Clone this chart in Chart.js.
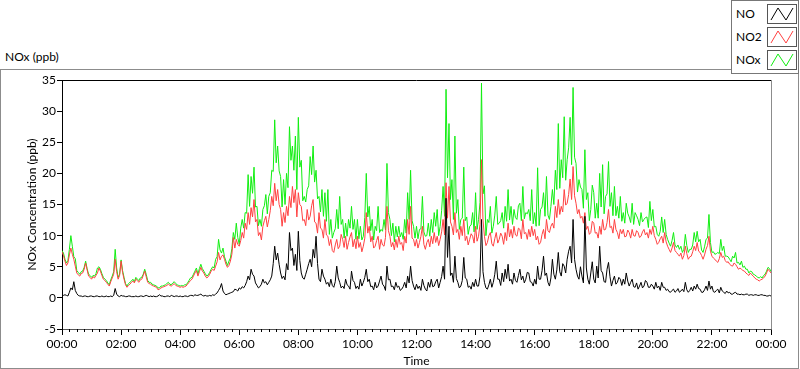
<!DOCTYPE html>
<html>
<head>
<meta charset="utf-8">
<script src="https://cdn.jsdelivr.net/npm/chart.js@4.4.1/dist/chart.umd.min.js"></script>
<style>
  body { margin: 0; background: #fff; font-family: Lato, sans-serif; }
  #wrap { position: relative; width: 800px; height: 369px; overflow: hidden; }
  #frame { position: absolute; left: 0; top: 69px; width: 797px; height: 298px; border: 1px solid #8c8c8c; }
  #cv { position: absolute; left: 0; top: 0; width: 800px; height: 369px; }
  #ttl { position: absolute; left: 5px; top: 49px; font-size: 12px; color: #000; }
  #legend { position: absolute; left: 731px; top: 0; width: 66px; height: 72px; border: 1px solid #777; background: #fff; }
  .lab { position: absolute; left: 4px; font-size: 12px; line-height: 14px; color: #000; }
  .sw { position: absolute; left: 35px; width: 28px; height: 18px; border: 1px solid #555; background: #fff; }
  .sw svg { display: block; }
</style>
</head>
<body>
<div id="wrap">
  <div id="frame"></div>
  <div id="ttl">NOx (ppb)</div>
  <div id="cv"><canvas id="chart"></canvas></div>
  <div id="legend">
    <div class="lab" style="top:6px">NO</div>
    <div class="sw" style="top:3px"><svg width="28" height="18"><polyline points="3,15 10,3 18,15 25,3" fill="none" stroke="#000" stroke-width="1"/></svg></div>
    <div class="lab" style="top:29px">NO2</div>
    <div class="sw" style="top:26px"><svg width="28" height="18"><polyline points="3,15 10,3 18,15 25,3" fill="none" stroke="#ff4040" stroke-width="1"/></svg></div>
    <div class="lab" style="top:52px">NOx</div>
    <div class="sw" style="top:49px"><svg width="28" height="18"><polyline points="3,15 10,3 18,15 25,3" fill="none" stroke="#11ee11" stroke-width="1"/></svg></div>
  </div>
</div>
<script>
// readings every 3 minutes, 00:00 .. 24:00 (ppb), one row per hour
const NO = [
  0.3, 0.4, 0.5, 0.4, 0.3, 0.9, 1.6, 1.3, 2.6, 1.2, 0.7, 0.4, 0.3, 0.3, 0.2, 0.3, 0.3, 0.2, 0.2, 0.3,
  0.3, 0.2, 0.2, 0.3, 0.3, 0.2, 0.2, 0.3, 0.2, 0.2, 0.3, 0.2, 0.2, 0.3, 0.2, 0.4, 1.5, 0.6, 0.3, 0.2,
  0.4, 0.3, 0.3, 0.2, 0.2, 0.3, 0.3, 0.2, 0.2, 0.2, 0.3, 0.2, 0.2, 0.3, 0.3, 0.2, 0.3, 0.4, 0.3, 0.2,
  0.3, 0.2, 0.3, 0.2, 0.2, 0.3, 0.5, 0.3, 0.3, 0.2, 0.2, 0.3, 0.3, 0.2, 0.4, 0.3, 0.2, 0.3, 0.3, 0.2,
  0.3, 0.2, 0.2, 0.3, 0.3, 0.2, 0.3, 0.4, 0.4, 0.3, 0.5, 0.4, 0.4, 0.5, 0.6, 0.4, 0.3, 0.4, 0.3, 0.3,
  0.4, 0.3, 0.5, 0.4, 0.6, 0.8, 1.2, 1.6, 2.3, 1.1, 0.7, 0.5, 0.6, 0.7, 0.8, 0.9, 1.0, 1.4, 1.3, 1.1,
  1.6, 1.4, 1.8, 1.6, 2.0, 2.6, 3.5, 2.9, 4.6, 3.8, 3.5, 2.4, 2.0, 1.6, 1.8, 2.2, 3.0, 2.4, 2.6, 2.1,
  2.5, 2.9, 3.5, 5.5, 8.3, 6.1, 7.2, 5.4, 4.0, 3.1, 3.5, 2.9, 5.5, 4.5, 10.5, 7.6, 8.0, 5.2, 7.0, 4.4,
  10.7, 6.0, 4.0, 3.2, 3.0, 3.8, 4.6, 5.5, 6.2, 5.0, 7.8, 6.4, 9.9, 5.5, 3.0, 2.6, 4.6, 3.5, 3.0, 2.2,
  2.5, 1.8, 3.0, 2.0, 1.7, 2.6, 5.1, 3.2, 2.5, 1.6, 1.9, 1.5, 3.0, 2.1, 1.9, 1.4, 4.3, 2.8, 2.5, 1.5,
  1.9, 1.4, 3.0, 1.9, 2.5, 3.3, 4.6, 2.6, 3.0, 1.8, 1.9, 1.3, 2.5, 1.6, 1.9, 2.7, 3.5, 2.2, 1.9, 1.2,
  5.1, 2.9, 3.0, 1.8, 1.9, 1.3, 2.5, 1.7, 1.9, 1.2, 1.4, 1.8, 2.5, 1.6, 3.5, 2.4, 5.1, 2.8, 1.9, 1.3,
  2.2, 1.5, 1.9, 1.2, 3.0, 2.0, 1.4, 1.1, 2.5, 1.7, 3.0, 1.8, 1.9, 2.6, 3.0, 1.6, 2.5, 3.4, 5.1, 3.0,
  16.0, 6.5, 11.5, 3.6, 4.0, 2.5, 6.7, 3.1, 2.5, 1.6, 1.9, 2.8, 6.5, 3.2, 3.0, 1.7, 1.9, 1.4, 2.5, 1.8,
  3.0, 1.9, 1.9, 3.5, 12.6, 4.2, 2.5, 1.6, 1.4, 2.1, 3.0, 1.7, 2.5, 3.8, 5.9, 3.0, 3.0, 2.0, 4.0, 2.6,
  4.6, 3.1, 5.4, 2.7, 3.0, 2.2, 4.0, 2.8, 2.5, 3.6, 4.6, 2.9, 3.5, 2.4, 3.0, 4.1, 4.0, 2.6, 2.5, 1.9,
  3.0, 2.2, 5.1, 3.0, 3.0, 4.4, 6.7, 3.6, 4.0, 2.5, 1.9, 3.2, 6.2, 3.8, 3.0, 4.5, 7.3, 4.2, 3.5, 5.5,
  5.1, 4.0, 6.2, 7.5, 8.3, 5.6, 12.6, 6.2, 4.6, 3.5, 3.0, 5.0, 3.5, 2.4, 13.1, 4.8, 3.0, 2.2, 4.0, 5.8,
  3.0, 2.4, 5.1, 3.2, 8.3, 4.4, 4.0, 2.6, 2.5, 4.6, 5.7, 3.4, 1.9, 2.8, 3.5, 2.2, 2.5, 3.3, 3.0, 2.0,
  3.0, 2.2, 4.0, 2.7, 1.9, 2.5, 3.0, 1.8, 1.7, 2.4, 1.4, 1.9, 2.5, 1.6, 1.9, 2.8, 2.5, 1.7, 1.7, 2.2,
  1.9, 1.4, 2.5, 1.6, 1.9, 1.2, 2.5, 1.7, 1.7, 1.2, 1.4, 1.0, 0.9, 1.2, 1.4, 0.9, 1.1, 1.5, 0.9, 1.1,
  1.4, 1.0, 2.5, 1.3, 0.9, 1.2, 1.7, 1.1, 1.9, 1.4, 2.2, 1.5, 1.4, 0.9, 0.9, 1.3, 1.9, 1.2, 2.7, 1.4,
  1.9, 1.0, 0.9, 1.2, 1.4, 0.8, 1.7, 1.1, 0.9, 0.7, 1.1, 0.8, 0.9, 0.6, 0.6, 0.8, 0.9, 0.6, 0.6, 0.5,
  0.6, 0.5, 0.5, 0.6, 0.6, 0.4, 0.5, 0.5, 0.4, 0.5, 0.5, 0.4, 0.4, 0.5, 0.5, 0.4, 0.4, 0.3, 0.3, 0.4, 0.3
];

const NO2 = [
  7.4, 6.8, 5.9, 5.2, 5.6, 6.9, 8.0, 7.0, 6.2, 5.1, 4.0, 3.7, 3.5, 3.9, 4.0, 4.6, 5.6, 4.5, 3.5, 3.3,
  3.0, 3.4, 3.2, 3.6, 4.0, 4.8, 4.3, 3.6, 3.0, 2.8, 2.5, 2.2, 1.9, 2.6, 3.2, 3.8, 6.2, 4.2, 3.0, 3.6,
  5.9, 4.1, 3.0, 2.1, 1.7, 2.0, 2.2, 2.5, 2.7, 2.4, 3.0, 2.8, 2.5, 2.9, 3.0, 3.6, 4.3, 3.4, 2.5, 2.3,
  2.2, 2.0, 1.9, 1.8, 1.7, 1.3, 1.4, 1.6, 1.7, 1.8, 1.9, 2.0, 2.2, 2.0, 1.9, 2.1, 2.3, 2.0, 1.9, 1.8,
  1.7, 1.8, 1.7, 1.8, 1.9, 2.2, 2.5, 2.8, 3.0, 3.5, 4.0, 4.4, 3.5, 4.2, 4.9, 4.3, 4.0, 3.5, 3.2, 3.4,
  3.8, 4.3, 4.6, 4.4, 5.1, 5.8, 7.3, 6.1, 6.7, 6.9, 6.2, 5.4, 4.9, 5.2, 5.9, 7.0, 9.7, 8.0, 9.4, 8.6,
  8.3, 9.2, 10.5, 9.6, 12.0, 11.0, 13.7, 11.8, 14.5, 13.0, 15.8, 12.2, 12.6, 10.0, 10.5, 9.3, 11.5, 12.4, 13.1, 11.4,
  12.6, 14.0, 16.3, 14.8, 18.4, 15.6, 17.4, 15.0, 14.2, 11.5, 13.7, 12.1, 14.7, 13.2, 16.3, 14.5, 17.9, 15.3, 17.4, 13.0,
  16.9, 15.0, 14.7, 12.4, 12.6, 11.6, 14.2, 12.5, 13.1, 14.8, 15.8, 12.2, 12.0, 10.4, 13.7, 11.2, 11.0, 9.6, 12.6, 10.1,
  9.9, 8.4, 9.4, 7.6, 7.3, 8.5, 9.4, 7.9, 8.3, 10.2, 9.4, 8.1, 9.9, 7.8, 8.9, 9.8, 10.5, 8.2, 9.4, 7.9,
  9.9, 8.1, 8.9, 7.4, 8.3, 9.6, 13.7, 10.4, 11.5, 9.0, 9.9, 8.0, 8.3, 9.2, 9.9, 7.8, 9.4, 8.5, 8.3, 9.7,
  14.7, 10.8, 9.9, 8.2, 8.9, 7.7, 9.4, 8.1, 9.9, 8.6, 8.9, 7.6, 9.9, 8.8, 12.6, 10.2, 14.7, 9.6, 9.4, 8.3,
  9.4, 8.0, 8.9, 9.9, 11.5, 8.6, 7.8, 8.9, 9.4, 8.2, 9.9, 8.7, 10.5, 8.9, 9.9, 8.4, 9.4, 10.6, 12.6, 10.1,
  18.5, 12.8, 17.9, 12.2, 11.5, 10.1, 13.7, 10.5, 11.0, 9.4, 11.5, 10.0, 12.6, 9.2, 9.9, 8.5, 9.4, 10.3, 9.9, 8.8,
  11.5, 9.1, 9.9, 11.8, 22.2, 12.5, 9.9, 8.4, 8.9, 10.0, 10.5, 8.7, 8.3, 9.5, 10.5, 8.8, 9.4, 10.4, 9.9, 8.6,
  10.5, 9.2, 12.0, 9.8, 11.0, 9.6, 11.5, 10.1, 9.9, 11.2, 11.0, 9.5, 12.6, 10.3, 10.5, 9.4, 11.0, 9.8, 11.5, 10.0,
  11.0, 9.3, 9.9, 8.6, 8.9, 10.2, 11.0, 9.5, 12.6, 10.8, 10.5, 11.5, 12.0, 11.2, 14.7, 12.9, 15.8, 13.4, 14.7, 13.8,
  17.4, 14.9, 15.2, 16.6, 19.1, 15.8, 21.1, 16.4, 15.2, 13.5, 14.2, 12.8, 13.1, 12.0, 13.7, 11.0, 11.5, 10.2, 10.5, 12.3,
  12.0, 10.4, 10.5, 9.6, 11.5, 10.2, 12.6, 10.9, 11.0, 12.1, 14.2, 11.3, 11.5, 10.4, 12.6, 11.0, 10.5, 9.5, 11.0, 10.3,
  11.0, 9.8, 9.9, 10.9, 10.5, 9.6, 11.0, 10.0, 9.9, 10.8, 10.5, 9.7, 9.9, 10.6, 11.0, 10.1, 10.5, 9.6, 11.0, 10.2,
  11.5, 10.0, 9.4, 8.6, 8.9, 9.5, 9.9, 8.8, 10.5, 9.0, 8.3, 7.8, 7.3, 8.0, 8.9, 7.6, 7.3, 7.0, 6.7, 7.2,
  6.2, 6.8, 8.3, 7.1, 6.2, 6.6, 6.7, 7.4, 8.3, 7.6, 8.9, 7.5, 7.3, 6.8, 6.2, 6.9, 7.8, 8.4, 9.9, 7.5,
  6.7, 6.4, 6.2, 5.9, 5.7, 6.3, 7.3, 6.5, 6.7, 6.0, 5.7, 5.8, 5.4, 5.2, 5.1, 5.6, 5.4, 5.0, 4.6, 4.8,
  4.6, 4.4, 4.3, 4.0, 3.8, 3.6, 4.0, 3.7, 3.5, 3.2, 3.0, 2.9, 2.7, 2.9, 3.0, 3.2, 3.5, 4.0, 4.6, 4.3, 4.0
];

const NOX = [
  7.6, 7.2, 6.2, 5.6, 6.0, 7.8, 10.0, 8.3, 6.6, 6.3, 4.4, 4.1, 3.8, 4.2, 4.3, 4.9, 5.9, 4.7, 3.8, 3.6,
  3.3, 3.6, 3.5, 3.9, 4.8, 5.0, 4.6, 3.9, 3.3, 3.0, 2.8, 2.4, 2.1, 2.9, 3.5, 4.2, 7.8, 4.8, 3.3, 3.8,
  6.1, 4.4, 3.3, 2.3, 1.9, 2.3, 2.5, 2.7, 3.0, 2.6, 3.3, 3.0, 2.8, 3.2, 3.3, 3.8, 4.6, 3.8, 2.8, 2.5,
  2.5, 2.2, 2.1, 2.0, 1.9, 1.6, 1.6, 1.9, 1.9, 2.0, 2.1, 2.3, 2.5, 2.2, 2.1, 2.4, 2.6, 2.3, 2.1, 2.0,
  1.9, 2.0, 1.9, 2.1, 2.1, 2.4, 2.8, 3.2, 3.3, 3.8, 4.3, 4.8, 3.8, 4.7, 5.4, 4.7, 4.3, 3.9, 3.5, 3.7,
  4.1, 4.6, 5.0, 4.8, 6.2, 6.6, 9.4, 7.7, 7.2, 8.0, 6.6, 5.9, 5.2, 5.9, 6.4, 7.9, 10.5, 9.4, 12.0, 9.7,
  8.6, 11.2, 12.6, 11.2, 13.7, 13.6, 19.8, 14.7, 19.5, 16.8, 21.0, 14.6, 14.7, 11.6, 12.6, 11.5, 14.2, 14.8, 16.6, 13.5,
  16.3, 16.9, 20.5, 20.3, 28.6, 21.7, 24.4, 20.4, 19.5, 14.6, 19.0, 15.0, 20.0, 17.7, 27.5, 22.1, 24.4, 20.5, 26.0, 17.4,
  29.0, 21.0, 22.1, 15.6, 16.3, 15.4, 17.4, 18.0, 22.7, 19.8, 24.4, 18.6, 20.5, 15.9, 16.3, 13.8, 17.4, 13.1, 16.9, 12.3,
  17.4, 10.2, 12.6, 9.6, 10.5, 11.1, 14.2, 11.1, 16.3, 11.8, 12.6, 9.6, 12.0, 9.9, 12.6, 11.2, 14.7, 11.0, 12.6, 9.4,
  12.6, 9.5, 11.5, 9.3, 9.9, 12.9, 20.0, 13.0, 14.7, 10.8, 12.6, 9.3, 11.5, 10.8, 14.7, 10.5, 11.0, 10.7, 12.6, 10.9,
  21.6, 13.7, 12.6, 10.0, 12.0, 9.0, 11.5, 9.8, 11.5, 9.8, 10.5, 9.4, 12.6, 10.4, 16.9, 12.6, 20.5, 12.4, 11.5, 9.6,
  11.5, 9.5, 11.0, 11.1, 16.3, 10.6, 9.9, 10.0, 12.0, 9.9, 12.6, 10.5, 13.7, 11.5, 14.2, 10.0, 11.5, 14.0, 17.9, 13.1,
  33.5, 19.3, 28.0, 15.8, 19.0, 12.6, 26.0, 13.6, 15.8, 11.0, 12.6, 12.8, 21.0, 12.4, 13.0, 10.2, 11.5, 11.7, 13.7, 10.6,
  16.9, 11.0, 12.6, 15.3, 34.5, 16.7, 18.0, 10.0, 12.6, 12.1, 14.7, 10.4, 11.5, 13.3, 16.3, 11.8, 12.0, 12.4, 13.7, 11.2,
  14.7, 12.3, 17.4, 12.5, 14.7, 11.8, 14.2, 12.9, 12.6, 14.8, 15.2, 12.4, 17.9, 12.7, 13.7, 13.5, 14.2, 12.4, 17.4, 11.9,
  13.7, 11.5, 20.9, 11.6, 14.2, 14.6, 16.9, 13.1, 19.5, 13.3, 12.6, 14.7, 17.4, 15.0, 20.5, 17.4, 28.0, 17.6, 22.2, 19.3,
  29.1, 18.9, 22.2, 24.1, 29.0, 21.4, 33.8, 22.6, 21.6, 17.0, 19.0, 17.8, 17.4, 14.4, 23.8, 15.8, 16.9, 12.4, 14.2, 18.1,
  16.9, 12.8, 15.2, 12.8, 20.0, 14.6, 21.4, 13.5, 16.3, 16.7, 21.9, 14.7, 16.9, 13.2, 17.9, 13.2, 14.7, 12.8, 16.3, 12.3,
  13.7, 12.0, 15.2, 13.6, 13.0, 12.1, 15.2, 11.8, 13.7, 13.2, 12.6, 11.6, 13.7, 12.2, 12.6, 12.9, 13.0, 11.3, 15.5, 12.4,
  14.2, 11.4, 11.5, 10.2, 9.9, 10.7, 13.0, 10.5, 12.6, 10.2, 9.4, 8.8, 8.3, 9.2, 10.5, 8.5, 8.1, 8.5, 7.8, 8.3,
  7.3, 7.8, 10.2, 8.4, 7.3, 7.8, 7.8, 8.5, 10.5, 9.0, 10.7, 9.0, 9.4, 7.7, 7.3, 8.2, 9.4, 9.6, 13.4, 8.9,
  7.3, 7.4, 7.0, 7.1, 7.3, 7.1, 9.4, 7.6, 8.3, 6.7, 6.7, 6.6, 6.2, 5.8, 6.7, 6.4, 7.3, 5.6, 5.7, 5.3,
  5.9, 4.9, 5.1, 4.6, 4.6, 4.0, 4.3, 4.2, 3.8, 3.7, 3.5, 3.3, 3.2, 3.4, 3.2, 3.6, 3.8, 4.3, 4.9, 4.7, 4.2
];

const stepHours = 0.05;          // 3 minutes between readings
const yTicks = [-5, 0, 5, 10, 15, 20, 25, 30, 35];

function toPoints(arr) {
  return arr.map((v, i) => ({ x: i * stepHours, y: v }));
}

function hhmm(h) {
  const hr = Math.round(h) % 24;
  return (hr < 10 ? "0" : "") + hr + ":00";
}

// plot border + minor ticks every 15 min on the time axis
const plotFrame = {
  id: "plotFrame",
  afterDraw(chart) {
    const { ctx, chartArea: a } = chart;
    const xs = chart.scales.x;
    ctx.save();
    ctx.lineWidth = 1;
    ctx.strokeStyle = "#000";
    ctx.beginPath();
    ctx.moveTo(a.left, a.top + 0.5);
    ctx.lineTo(a.right, a.top + 0.5);
    ctx.stroke();
    ctx.strokeStyle = "#8c8c8c";
    ctx.beginPath();
    ctx.moveTo(a.right + 0.5, a.top);
    ctx.lineTo(a.right + 0.5, a.bottom);
    ctx.stroke();

    ctx.strokeStyle = "#000";
    ctx.beginPath();
    for (let q = 0; q <= 96; q++) {
      if (q % 8 === 0) continue;
      const px = Math.round(xs.getPixelForValue(q * 0.25)) + 0.5;
      ctx.moveTo(px, a.bottom);
      ctx.lineTo(px, a.bottom + 3);
    }
    ctx.stroke();
    ctx.restore();
  }
};

Chart.defaults.font.family = "Lato, sans-serif";
Chart.defaults.font.size = 12;
Chart.defaults.color = "#000";

new Chart(document.getElementById("chart"), {
  type: "line",
  data: {
    datasets: [
      { label: "NO", data: toPoints(NO), borderColor: "#000", borderWidth: 1 },
      { label: "NO2", data: toPoints(NO2), borderColor: "#ff4040", borderWidth: 1 },
      { label: "NOx", data: toPoints(NOX), borderColor: "#11ee11", borderWidth: 1 }
    ]
  },
  options: {
    responsive: true,
    maintainAspectRatio: false,
    animation: false,
    events: [],
    elements: { point: { radius: 0 }, line: { tension: 0 } },
    layout: { padding: { left: 0, top: 80, right: 29, bottom: 0 } },
    plugins: { legend: { display: false }, tooltip: { enabled: false } },
    scales: {
      x: {
        type: "linear",
        min: 0,
        max: 24,
        afterFit(scale) { scale.height = 40; },
        border: { display: true, color: "#555" },
        grid: { drawOnChartArea: false, drawTicks: true, tickLength: 6, color: "#000" },
        ticks: {
          stepSize: 2,
          autoSkip: false,
          maxRotation: 0,
          padding: 2,
          callback: v => hhmm(v)
        },
        title: { display: true, text: "Time", padding: { top: 0, bottom: 1 } }
      },
      y: {
        min: -5,
        max: 35,
        afterFit(scale) { scale.width = 62; },
        afterBuildTicks(scale) { scale.ticks = yTicks.map(v => ({ value: v })); },
        border: { display: true, color: "#000" },
        grid: { drawOnChartArea: false, drawTicks: true, tickLength: 5, color: "#000" },
        ticks: { padding: 1 },
        title: { display: true, text: "NOx Concentration (ppb)", padding: { top: 25, bottom: 0 } }
      }
    }
  },
  plugins: [plotFrame]
});
</script>
</body>
</html>
